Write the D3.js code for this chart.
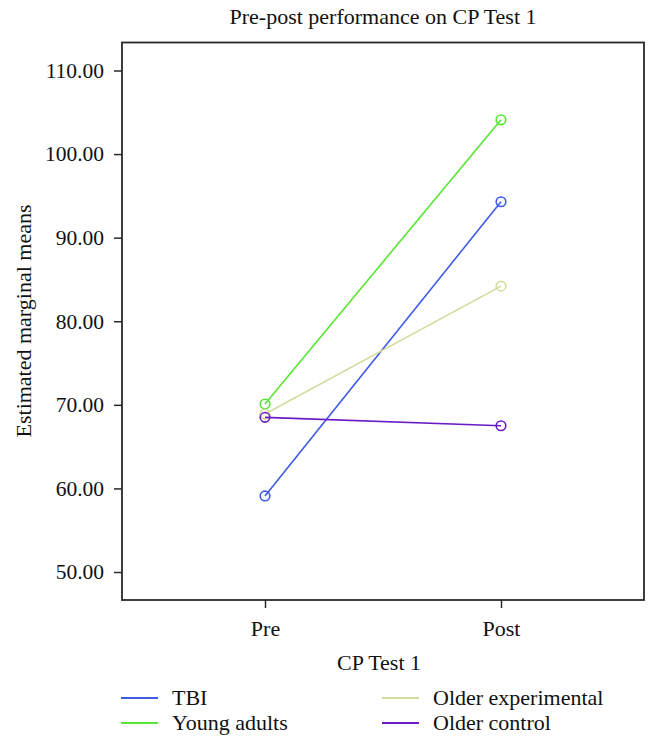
<!DOCTYPE html>
<html><head><meta charset="utf-8">
<script src="https://cdn.jsdelivr.net/npm/d3@7"></script>
<style>body{margin:0;background:#fff;} svg text{font-family:"Liberation Serif","DejaVu Serif",serif !important;fill:#111;}</style>
</head><body>
<svg id="chart" width="659" height="748"></svg>
<script>
const categories = ["Pre", "Post"];
const seriesNames = ["TBI", "Young adults", "Older experimental", "Older control"];
const tbiValues = [59.1, 94.3];
const youngValues = [70.1, 104.1];
const olderExpValues = [68.9, 84.2];
const olderCtrlValues = [68.5, 67.5];
const yTicks = [50, 60, 70, 80, 90, 100, 110];
const colors = ["#3d5be6", "#58e634", "#d3dc9e", "#6a1cc4"];

const seriesValues = [tbiValues, youngValues, olderExpValues, olderCtrlValues];
const svg = d3.select("#chart");
const frameL = 122, frameR = 644, frameT = 42.5, frameB = 600;
const FONT = "Liberation Serif, serif";

const y = d3.scaleLinear().domain([50, 110]).range([572, 70.5]);
const x = d3.scalePoint().domain(categories).range([265, 501]);

// frame
svg.append("rect").attr("x", frameL).attr("y", frameT).attr("width", frameR - frameL).attr("height", frameB - frameT)
  .attr("fill", "none").attr("stroke", "#2a2a2a").attr("stroke-width", 1.8);

// y axis
const yAxis = svg.append("g").attr("transform", `translate(${frameL},0)`)
  .call(d3.axisLeft(y).tickValues(yTicks).tickFormat(d3.format(".2f")).tickSize(8).tickPadding(10));
yAxis.attr("font-family", FONT).attr("font-size", 21.5);
yAxis.select(".domain").remove();
yAxis.selectAll("line").attr("stroke", "#2a2a2a").attr("stroke-width", 1.5);
yAxis.selectAll("text").attr("fill", "#111");

// x axis
const xAxis = svg.append("g").attr("transform", `translate(0,${frameB})`)
  .call(d3.axisBottom(x).tickSize(8).tickPadding(12));
xAxis.attr("font-family", FONT).attr("font-size", 22);
xAxis.select(".domain").remove();
xAxis.selectAll("line").attr("stroke", "#2a2a2a").attr("stroke-width", 1.5);
xAxis.selectAll("text").attr("fill", "#111");

// titles
svg.append("text").attr("x", 383).attr("y", 24).attr("text-anchor", "middle").style("font-size", "22px")
  .text("Pre-post performance on CP Test 1");
svg.append("text").attr("transform", "translate(31,321) rotate(-90)").attr("text-anchor", "middle").style("font-size", "22px")
  .text("Estimated marginal means");
svg.append("text").attr("x", 379).attr("y", 670).attr("text-anchor", "middle").style("font-size", "22px")
  .text("CP Test 1");

// lines and points
const line = d3.line().x((d, i) => x(categories[i])).y(d => y(d));
seriesValues.forEach((vals, s) => {
  svg.append("path").datum(vals).attr("d", line).attr("fill", "none")
    .attr("stroke", colors[s]).attr("stroke-width", 1.6);
  svg.selectAll(null).data(vals).enter().append("circle")
    .attr("cx", (d, i) => x(categories[i])).attr("cy", d => y(d)).attr("r", 4.8)
    .attr("fill", "none").attr("stroke", colors[s]).attr("stroke-width", 1.6);
});

// legend
const legendPos = [[121, 698], [121, 723], [382, 698], [382, 723]];
seriesNames.forEach((name, s) => {
  const [lx, ly] = legendPos[s];
  svg.append("line").attr("x1", lx).attr("x2", lx + 37).attr("y1", ly).attr("y2", ly)
    .attr("stroke", colors[s]).attr("stroke-width", 2);
  svg.append("text").attr("x", lx + 51).attr("y", ly + 7).style("font-size", "22px").text(name);
});
</script>
</body></html>
